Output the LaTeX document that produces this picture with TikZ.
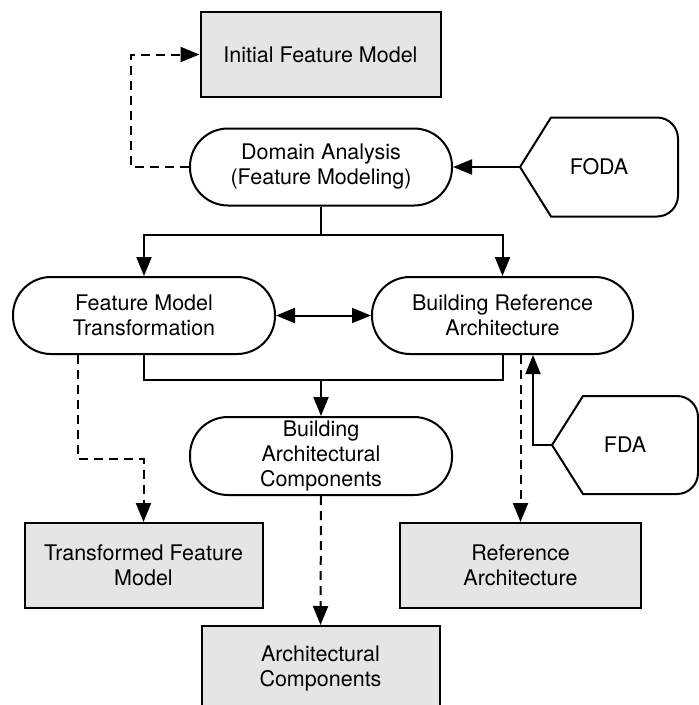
\documentclass[tikz,border=0pt]{standalone}
\usepackage{fontspec}
\setmainfont{TeX Gyre Heros}
\usetikzlibrary{arrows.meta}

\begin{document}
\begin{tikzpicture}
  [x=1pt,y=-1pt,line width=2pt,>={Triangle[length=19pt,width=15pt]},
   every node/.style={align=center,inner sep=0pt,font=\fontsize{21.5}{25}\selectfont},
   product/.style={draw,rectangle,fill=gray!20,minimum width=240pt,minimum height=85pt},
   activity/.style={draw,rectangle,rounded corners=38pt,minimum width=262pt,minimum height=77pt},
   source/.style={minimum width=#1,minimum height=97pt},
   produces/.style={dash pattern=on 9pt off 6pt}]
  \useasboundingbox (0,0) rectangle (699,705);

  \node[product] (ifm) at (320.5,54.5) {Initial Feature Model};
  \node[activity] (da) at (321,167) {Domain Analysis\\(Feature Modeling)};
  \node[source=156pt] (foda) at (599,167) {FODA};
  \node[activity] (fmt) at (144,315.5) {Feature Model\\Transformation};
  \node[activity,minimum width=261pt] (bra) at (502.5,315.5) {Building Reference\\Architecture};
  \node[activity,minimum height=78pt] (bac) at (321,456) {Building\\Architectural\\Components};
  \node[source=144pt,minimum height=96pt] (fda) at (625,445) {FDA};
  \node[product,minimum width=238pt] (tfm) at (143.5,565.5) {Transformed Feature\\Model};
  \node[product,minimum width=241pt] (ra) at (520.5,565.5) {Reference\\Architecture};
  \node[product,minimum width=238pt] (ac) at (320.5,668.5) {Architectural\\Components};

  \foreach \m in {foda,fda}
    \draw (\m.west) -- ([xshift=31pt]\m.north west) [rounded corners=21pt] -- (\m.north east)
      -- (\m.south east) [sharp corners] -- ([xshift=31pt]\m.south west) -- cycle;

  \coordinate (split) at (321,235);
  \coordinate (merge) at (321,380);

  \draw[produces,->] (da.west) -- ++(-58,0) |- (ifm.west);
  \draw[->] (foda.west) -- (da.east);
  \draw (da.south) -- (split);
  \draw[->] (split) -| (fmt.north);
  \draw[->] (split) -| (bra.north);
  \draw[<->] (fmt.east) -- (bra.west);
  \draw (fmt.south) |- (merge) -| (bra.south);
  \draw[->] (merge) -- (bac.north);
  \draw[produces,->] ([xshift=-66pt]fmt.south) -- ++(0,104) -| (tfm.north);
  \draw[produces,->] (ra.north |- bra.south) -- (ra.north);
  \draw[->] (fda.west) -| ([xshift=30.5pt]bra.south);
  \draw[produces,->] (bac.south) -- (ac.north);
\end{tikzpicture}
\end{document}
